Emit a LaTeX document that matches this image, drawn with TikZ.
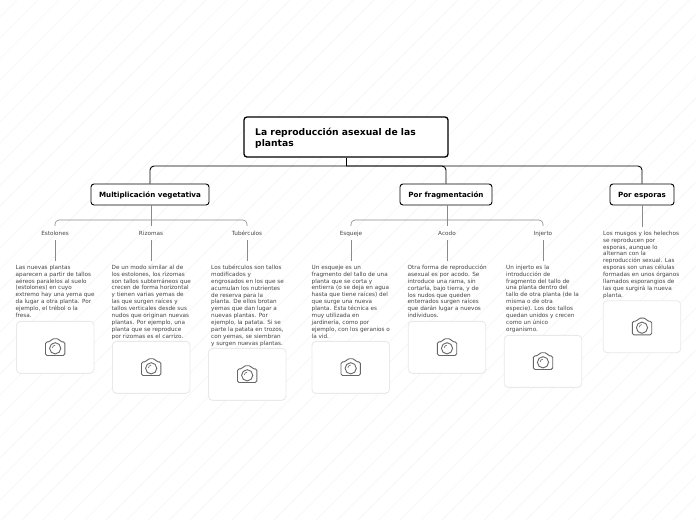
\documentclass[tikz,border=0pt]{standalone}
\usepackage{fontspec}
\setmainfont{DejaVu Sans}
\definecolor{stripegray}{HTML}{F5F5F5}
\definecolor{branchgray}{HTML}{8A8A8A}
\definecolor{framegray}{HTML}{E9E9E9}
\definecolor{cameragray}{HTML}{666666}
\definecolor{leaftext}{HTML}{444444}
\begin{document}
\begin{tikzpicture}[x=1pt,y=-1pt]
	\tikzset{
		rootbox/.style={draw=black, line width=1.3pt, rounded corners=3pt, minimum width=204pt, minimum height=40pt, fill=white},
		midbox/.style={draw=black, line width=0.9pt, rounded corners=3pt, minimum height=21pt, text height=7pt, text depth=0.2pt, fill=white, font=\fontsize{7.15}{8}\selectfont\bfseries},
		tagbox/.style={inner sep=0pt, text height=5.2pt, text depth=0.6pt, minimum height=14pt, font=\fontsize{5.7}{6.9}\selectfont, text=leaftext},
		leafbox/.style={inner sep=0pt, outer ysep=4pt, anchor=north west, align=left, font=\fontsize{5.7}{6.87}\selectfont, text=leaftext, execute at begin node=\rule{0pt}{8pt}},
		photobox/.style={draw=framegray, line width=0.9pt, rounded corners=4pt, minimum width=77.5pt, minimum height=52pt, fill=white},
		trunk/.style={draw=black, line width=0.9pt, rounded corners=4pt},
		branch/.style={draw=branchgray, line width=0.6pt, rounded corners=4pt},
		camera/.pic={
			\draw [cameragray, line width=0.9pt, rounded corners=1.6pt] (-9.7,-5.5) -- (-5,-5.5) -- (-3.2,-8.6) -- (3.6,-8.6) -- (5.2,-5.5) -- (9.7,-5.5) -- (9.7,8.2) -- (-9.7,8.2) -- cycle;
			\draw [cameragray, line width=0.9pt] (0,1) circle (5.6pt);
			\draw [cameragray, line width=0.6pt] (-2.9,0.6) .. controls (-2.7,-0.9) and (-1.6,-2) .. (-0.2,-2.1);
		}
	}
	\useasboundingbox (0,0) rectangle (696,520);

	% background stripes
	\begin{scope}
	\clip (0,0) rectangle (696,520);
	\foreach \s in {0,21,...,1239} {
		\draw [stripegray, line width=0.7pt] (\s-4,0) -- (\s-4-520,520);
	}
	\end{scope}

	% main nodes
	\node [rootbox] (raiz) at (346,137) {};
	\node [anchor=north west, inner sep=0pt, align=left, font=\fontsize{9.2}{11}\selectfont\bfseries] (raiztext) at (255,127.5) {La reproducción asexual de las\\plantas};
	\node [midbox, minimum width=118pt] (vegetativa) at (150,194.5) {Multiplicación vegetativa};
	\node [midbox, minimum width=92pt] (fragmentacion) at (446,194.5) {Por fragmentación};
	\node [midbox, minimum width=64pt] (esporas) at (642,194.5) {Por esporas};

	\coordinate (busraiz) at (346,166);
	\coordinate (busvegetativa) at (151,220);
	\coordinate (busfragmentacion) at (447,220);

	\draw [trunk] (raiz.south) -- (busraiz);
	\draw [trunk] (vegetativa.north) |- (busraiz);
	\draw [trunk] (esporas.north) |- (busraiz);
	\draw [trunk] (fragmentacion.north) |- (busraiz);

	% first group
	\node [tagbox] (estolones) at (55,233) {Estolones};
	\node [tagbox] (rizomas) at (151,233) {Rizomas};
	\node [tagbox] (tuberculos) at (247,233) {Tubérculos};

	\draw [branch] (vegetativa.south -| busvegetativa) -- (busvegetativa);
	\draw [branch] (estolones.north) |- (busvegetativa);
	\draw [branch] (tuberculos.north) |- (busvegetativa);
	\draw [branch] (rizomas.north) -- (busvegetativa);

	\node [leafbox] (estolonestext) at (15.5,261) {Las nuevas plantas\\aparecen a partir de tallos\\aéreos paralelos al suelo\\(estolones) en cuyo\\extremo hay una yema que\\da lugar a otra planta. Por\\ejemplo, el trébol o la\\fresa.};
	\node [leafbox] (rizomastext) at (111.5,261) {De un modo similar al de\\los estolones, los rizomas\\son tallos subterráneos que\\crecen de forma horizontal\\y tienen varias yemas de\\las que surgen raíces y\\tallos verticales desde sus\\nudos que originan nuevas\\plantas. Por ejemplo, una\\planta que se reproduce\\por rizomas es el carrizo.};
	\node [leafbox] (tuberculostext) at (211,261) {Los tubérculos son tallos\\modificados y\\engrosados en los que se\\acumulan los nutrientes\\de reserva para la\\planta. De ellos brotan\\yemas que dan lugar a\\nuevas plantas. Por\\ejemplo, la patata. Si se\\parte la patata en trozos,\\con yemas, se siembran\\y surgen nuevas plantas.};

	\draw [branch] (estolones.south) -- (estolones.south |- estolonestext.north);
	\draw [branch] (rizomas.south) -- (rizomas.south |- rizomastext.north);
	\draw [branch] (tuberculos.south) -- (tuberculos.south |- tuberculostext.north);

	% second group
	\node [tagbox] (esqueje) at (351,233) {Esqueje};
	\node [tagbox] (acodo) at (447,233) {Acodo};
	\node [tagbox] (injerto) at (543,233) {Injerto};

	\draw [branch] (fragmentacion.south -| busfragmentacion) -- (busfragmentacion);
	\draw [branch] (esqueje.north) |- (busfragmentacion);
	\draw [branch] (injerto.north) |- (busfragmentacion);
	\draw [branch] (acodo.north) -- (busfragmentacion);

	\node [leafbox] (esquejetext) at (311.5,261) {Un esqueje es un\\fragmento del tallo de una\\planta que se corta y\\entierra (o se deja en agua\\hasta que tiene raíces) del\\que surge una nueva\\planta. Esta técnica es\\muy utilizada en\\jardinería, como por\\ejemplo, con los geranios o\\la vid.};
	\node [leafbox] (acodotext) at (407.5,261) {Otra forma de reproducción\\asexual es por acodo. Se\\introduce una rama, sin\\cortarla, bajo tierra, y de\\los nudos que queden\\enterrados surgen raíces\\que darán lugar a nuevos\\individuos.};
	\node [leafbox] (injertotext) at (506,261) {Un injerto es la\\introducción de\\fragmento del tallo de\\una planta dentro del\\tallo de otra planta (de la\\misma o de otra\\especie). Los dos tallos\\quedan unidos y crecen\\como un único\\organismo.};

	\draw [branch] (esqueje.south) -- (esqueje.south |- esquejetext.north);
	\draw [branch] (acodo.south) -- (acodo.south |- acodotext.north);
	\draw [branch] (injerto.south) -- (injerto.south |- injertotext.north);

	% third group
	\node [leafbox] (esporastext) at (603,227) {Los musgos y los helechos\\se reproducen por\\esporas, aunque lo\\alternan con la\\reproducción sexual. Las\\esporas son unas células\\formadas en unos órganos\\llamados esporangios de\\las que surgirá la nueva\\planta.};
	\draw [branch] (esporas.south) -- (esporas.south |- esporastext.north);

	% photo placeholders
	\node [photobox] (estolonesfoto) at (55.2,347.3) {};
	\node [photobox] (rizomasfoto) at (151.2,367.3) {};
	\node [photobox] (tuberculosfoto) at (247.2,374.3) {};
	\node [photobox] (esquejefoto) at (350.7,367.3) {};
	\node [photobox] (acodofoto) at (447,347.3) {};
	\node [photobox] (injertofoto) at (543,361.3) {};
	\node [photobox] (esporasfoto) at (642,326.7) {};

	\foreach \f in {estolonesfoto,rizomasfoto,tuberculosfoto,esquejefoto,acodofoto,injertofoto,esporasfoto} {
		\pic at (\f) {camera};
	}
\end{tikzpicture}
\end{document}
